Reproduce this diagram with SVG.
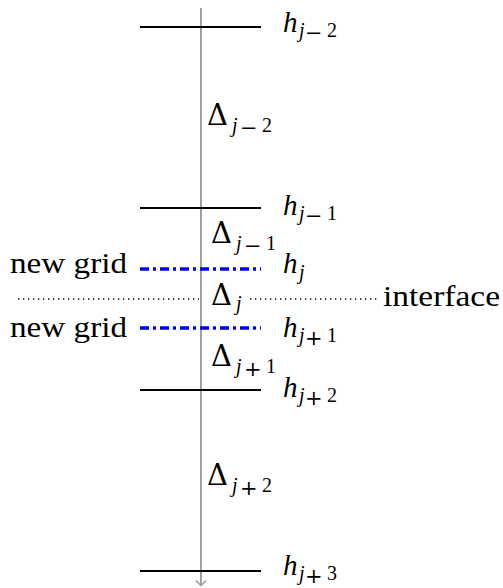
<svg xmlns="http://www.w3.org/2000/svg" width="503" height="588" viewBox="0 0 503 588">
<g id="connectors">
<line x1="201" y1="8" x2="201" y2="585" stroke="#a0a0a0" stroke-width="2"/>
<polyline points="196,580.5 201,585.5 206,580.5" fill="none" stroke="#a0a0a0" stroke-width="1.6"/>
</g>

<g id="h-jm2">
<line x1="140" y1="27" x2="261" y2="27" stroke="#000" stroke-width="2"/>
<text font-family="Liberation Serif" font-size="29"><tspan font-style="italic" x="283" y="32">h</tspan><tspan font-style="italic" font-size="20" x="299" y="37">j</tspan><tspan font-family="DejaVu Serif" font-size="21" x="305" y="40">−</tspan><tspan font-size="20" x="327" y="37">2</tspan></text>
</g>
<g id="h-jm1">
<line x1="140" y1="208" x2="261" y2="208" stroke="#000" stroke-width="2"/>
<text font-family="Liberation Serif" font-size="29"><tspan font-style="italic" x="283" y="215">h</tspan><tspan font-style="italic" font-size="20" x="299" y="220">j</tspan><tspan font-family="DejaVu Serif" font-size="21" x="305" y="223">−</tspan><tspan font-size="20" x="327" y="220">1</tspan></text>
</g>
<g id="h-j">
<line x1="140" y1="269" x2="261" y2="269" stroke="#0000ff" stroke-width="3.6" stroke-dasharray="9 4 3 4"/>
<text font-family="Liberation Serif" font-size="29"><tspan font-style="italic" x="283" y="273">h</tspan><tspan font-style="italic" font-size="20" x="299" y="279">j</tspan></text>
</g>
<g id="h-jp1">
<line x1="140" y1="328" x2="261" y2="328" stroke="#0000ff" stroke-width="3.6" stroke-dasharray="9 4 3 4"/>
<text font-family="Liberation Serif" font-size="29"><tspan font-style="italic" x="283" y="337">h</tspan><tspan font-style="italic" font-size="20" x="299" y="342">j</tspan><tspan font-family="DejaVu Serif" font-size="21" x="305" y="345">+</tspan><tspan font-size="20" x="327" y="342">1</tspan></text>
</g>
<g id="h-jp2">
<line x1="140" y1="390" x2="261" y2="390" stroke="#000" stroke-width="2"/>
<text font-family="Liberation Serif" font-size="29"><tspan font-style="italic" x="283" y="397">h</tspan><tspan font-style="italic" font-size="20" x="299" y="402">j</tspan><tspan font-family="DejaVu Serif" font-size="21" x="305" y="405">+</tspan><tspan font-size="20" x="327" y="402">2</tspan></text>
</g>
<g id="h-jp3">
<line x1="140" y1="571" x2="261" y2="571" stroke="#000" stroke-width="2"/>
<text font-family="Liberation Serif" font-size="29"><tspan font-style="italic" x="283" y="575">h</tspan><tspan font-style="italic" font-size="20" x="299" y="580">j</tspan><tspan font-family="DejaVu Serif" font-size="21" x="305" y="583">+</tspan><tspan font-size="20" x="327" y="580">3</tspan></text>
</g>

<g id="d-jm2">
<text font-family="Liberation Serif" font-size="29"><tspan font-family="DejaVu Serif" x="207" y="125">Δ</tspan><tspan font-style="italic" font-size="20" x="232" y="132">j</tspan><tspan font-family="DejaVu Serif" font-size="21" x="240" y="135">−</tspan><tspan font-size="20" x="262" y="132">2</tspan></text>
</g>
<g id="d-jm1">
<text font-family="Liberation Serif" font-size="29"><tspan font-family="DejaVu Serif" x="211" y="243">Δ</tspan><tspan font-style="italic" font-size="20" x="236" y="250">j</tspan><tspan font-family="DejaVu Serif" font-size="21" x="244" y="253">−</tspan><tspan font-size="20" x="266" y="250">1</tspan></text>
</g>
<g id="d-j">
<text font-family="Liberation Serif" font-size="29"><tspan font-family="DejaVu Serif" x="211" y="305">Δ</tspan><tspan font-style="italic" font-size="20" x="236" y="310">j</tspan></text>
</g>
<g id="d-jp1">
<text font-family="Liberation Serif" font-size="29"><tspan font-family="DejaVu Serif" x="211" y="366">Δ</tspan><tspan font-style="italic" font-size="20" x="236" y="373">j</tspan><tspan font-family="DejaVu Serif" font-size="21" x="244" y="376">+</tspan><tspan font-size="20" x="266" y="373">1</tspan></text>
</g>
<g id="d-jp2">
<text font-family="Liberation Serif" font-size="29"><tspan font-family="DejaVu Serif" x="207" y="485">Δ</tspan><tspan font-style="italic" font-size="20" x="232" y="492">j</tspan><tspan font-family="DejaVu Serif" font-size="21" x="240" y="495">+</tspan><tspan font-size="20" x="262" y="492">2</tspan></text>
</g>

<g id="newgrid-1">
<text font-family="Liberation Serif" font-size="29" x="10" y="273" textLength="117" lengthAdjust="spacingAndGlyphs">new grid</text>
</g>
<g id="newgrid-2">
<text font-family="Liberation Serif" font-size="29" x="10" y="337" textLength="117" lengthAdjust="spacingAndGlyphs">new grid</text>
</g>

<g id="interface">
<line x1="18" y1="299" x2="199" y2="299" stroke="#000" stroke-width="1.3" stroke-dasharray="1.3 3.7"/>
<line x1="250" y1="299" x2="380" y2="299" stroke="#000" stroke-width="1.3" stroke-dasharray="1.3 3.7"/>
<text font-family="Liberation Serif" font-size="29" x="383" y="306" textLength="117" lengthAdjust="spacingAndGlyphs">interface</text>
</g>
</svg>
